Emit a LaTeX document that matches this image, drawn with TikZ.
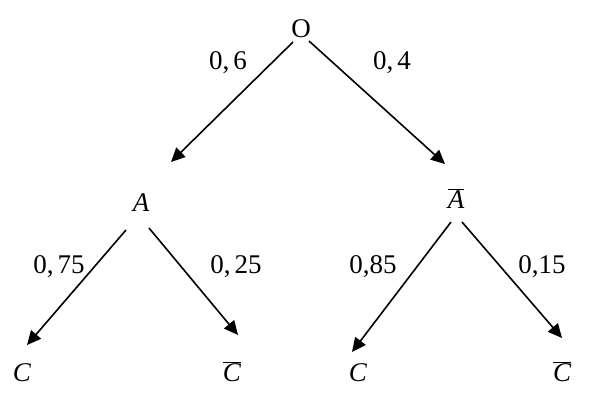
\documentclass[tikz,border=0pt]{standalone}
\usepackage{fontspec}
\setmainfont{Liberation Serif}
\usetikzlibrary{arrows.meta}
\newcommand{\barit}[1]{$\overline{\mbox{\itshape #1}}$}
\begin{document}
\begin{tikzpicture}[x=1pt,y=-1pt,
  lbl/.style={font=\fontsize{27}{31}\selectfont, inner sep=0pt, anchor=base},
  edge/.style={line width=1.6pt, -{Triangle[length=14pt,width=13pt]}}]
\useasboundingbox (0,0) rectangle (597,404);
\node[lbl] (O) at (301,38) {O};
\node[lbl] (A) at (141,211) {\itshape A};
\node[lbl] (Ab) at (456,208) {\barit{A}};
\node[lbl] (C1) at (22,381) {\itshape C};
\node[lbl] (C1b) at (232,381) {\barit{C}};
\node[lbl] (C2) at (358,381) {\itshape C};
\node[lbl] (C2b) at (562,381) {\barit{C}};
\draw[edge] ([shift={(-8,4)}]O.base) -- ([shift={(30,-49)}]A.base);
\draw[edge] ([shift={(8,3)}]O.base) -- ([shift={(-11,-44)}]Ab.base);
\draw[edge] ([shift={(-15,19)}]A.base) -- ([shift={(5,-36)}]C1.base);
\draw[edge] ([shift={(8,17)}]A.base) -- ([shift={(6,-46)}]C1b.base);
\draw[edge] ([shift={(-5,14)}]Ab.base) -- ([shift={(-6,-29)}]C2.base);
\draw[edge] ([shift={(6,14)}]Ab.base) -- ([shift={(0,-43)}]C2b.base);
\node[lbl] (p1) at (228,70) {0,\kern4pt6};
\node[lbl] (p2) at (392,70) {0,\kern4pt4};
\node[lbl] (p3) at (59,273) {0,\kern4pt75};
\node[lbl] (p4) at (236,273) {0,\kern4pt25};
\node[lbl] (p5) at (373,273) {0,85};
\node[lbl] (p6) at (542,273) {0,15};
\end{tikzpicture}
\end{document}
